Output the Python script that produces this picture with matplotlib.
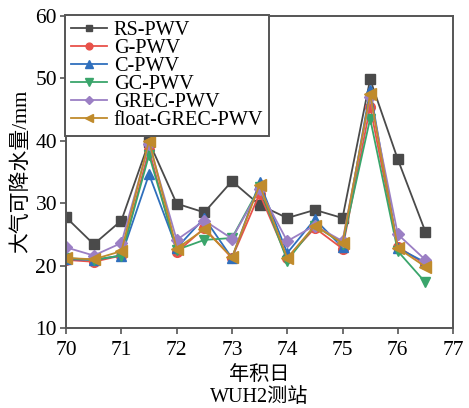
import matplotlib
matplotlib.use("Agg")
import matplotlib.pyplot as plt

plt.rcParams['font.family'] = ['Liberation Serif', 'Noto Sans CJK SC', 'DejaVu Sans']

days = [70, 70.5, 71, 71.5, 72, 72.5, 73, 73.5, 74, 74.5, 75, 75.5, 76, 76.5]
rs_pwv = [27.7, 23.4, 27.2, 39.8, 29.9, 28.5, 33.5, 29.7, 27.6, 28.9, 27.6, 49.8, 37.0, 25.4]
g_pwv = [20.9, 20.6, 21.6, 38.5, 22.1, 26.0, 21.2, 31.5, 21.2, 26.0, 22.7, 45.4, 23.0, 20.2]
c_pwv = [21.0, 20.9, 21.6, 34.6, 22.8, 27.6, 21.2, 33.3, 22.0, 27.4, 22.9, 48.1, 22.8, 20.5]
gc_pwv = [21.2, 20.9, 21.6, 37.7, 22.5, 24.1, 24.4, 32.5, 20.8, 26.4, 23.5, 43.5, 22.3, 17.3]
grec_pwv = [22.9, 21.6, 23.6, 39.5, 24.1, 27.2, 24.3, 32.2, 23.9, 26.4, 23.9, 47.0, 25.0, 20.9]
float_grec_pwv = [21.2, 21.0, 22.3, 40.0, 22.7, 25.8, 21.3, 32.9, 21.2, 26.4, 23.6, 47.4, 22.8, 19.8]

labels = ['RS-PWV', 'G-PWV', 'C-PWV', 'GC-PWV', 'GREC-PWV', 'float-GREC-PWV']
series = [rs_pwv, g_pwv, c_pwv, gc_pwv, grec_pwv, float_grec_pwv]
colors = ['#4a4a4a', '#e8524a', '#2f6fbd', '#3aa56b', '#9b7fc4', '#c08b2c']
markers = ['s', 'o', '^', 'v', 'D', '<']
msizes = [7, 7, 7.5, 7.5, 6.5, 8]

fig = plt.figure(figsize=(4.69, 4.08), dpi=100)
ax = fig.add_axes([0.141, 0.196, 0.825, 0.766])

for y, lab, c, m, ms in zip(series, labels, colors, markers, msizes):
    ax.plot(days, y, color=c, marker=m, markersize=ms, linewidth=1.3, label=lab)

ax.set_xlim(70, 77)
ax.set_ylim(10, 60)
ax.set_xticks(range(70, 78))
ax.set_yticks(range(10, 61, 10))
ax.tick_params(direction='out', length=4.5, width=1.2, color='#555555', labelsize=15.5)
ax.tick_params(axis='x', pad=5)
ax.tick_params(axis='y', pad=2)
for s in ax.spines.values():
    s.set_color('#555555')
    s.set_linewidth(1.4)

ax.set_ylabel('大气可降水量/mm', fontsize=15, labelpad=3)
ax.set_xlabel('年积日\nWUH2测站', fontsize=14.5, linespacing=1.25, labelpad=4)

leg = ax.legend(loc='upper left', bbox_to_anchor=(-0.003, 1.003), fontsize=14.6,
                frameon=True, fancybox=False, borderaxespad=0, labelspacing=-0.06,
                handlelength=1.75, handletextpad=0.35, borderpad=0.3, markerscale=0.7)
leg.get_frame().set_edgecolor('#555555')
leg.get_frame().set_linewidth(1.4)
leg.get_frame().set_alpha(1)

fig.savefig('out.png', dpi=100)
